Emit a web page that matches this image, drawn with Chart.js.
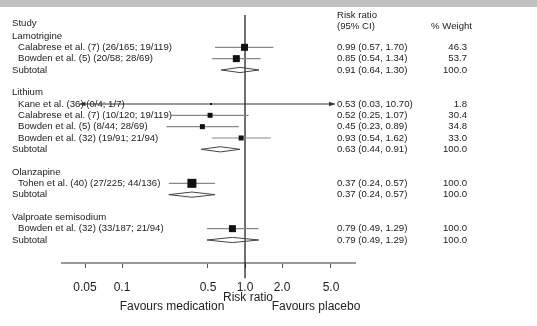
<!DOCTYPE html>
<html>
<head>
<meta charset="utf-8">
<script src="https://cdn.jsdelivr.net/npm/chart.js@4.4.1/dist/chart.umd.min.js"></script>
<style>
  body { margin: 0; background: #fff; }
  #wrap { width: 537px; height: 326px; position: relative; }
</style>
</head>
<body>
<div id="wrap"><canvas id="forest"></canvas></div>
<script>
// ---- data ----
const groupNames = ['Lamotrigine', 'Lithium', 'Olanzapine', 'Valproate semisodium'];
const groupRows = [1, 6, 13, 17];

const studyNames = [
    'Calabrese et al. (7) (26/165; 19/119)',
    'Bowden et al. (5) (20/58; 28/69)',
    'Kane et al. (36) (0/4; 1/7)',
    'Calabrese et al. (7) (10/120; 19/119)',
    'Bowden et al. (5) (8/44; 28/69)',
    'Bowden et al. (32) (19/91; 21/94)',
    'Tohen et al. (40) (27/225; 44/136)',
    'Bowden et al. (32) (33/187; 21/94)'
];
const studyRows = [2, 3, 7, 8, 9, 10, 14, 18];
const studyRR = [0.99, 0.85, 0.53, 0.52, 0.45, 0.93, 0.37, 0.79];
const studyLow = [0.57, 0.54, 0.03, 0.25, 0.23, 0.54, 0.24, 0.49];
const studyHigh = [1.70, 1.34, 10.70, 1.07, 0.89, 1.62, 0.57, 1.29];
const studyWeight = [46.3, 53.7, 1.8, 30.4, 34.8, 33.0, 100.0, 100.0];

const subRows = [4, 11, 15, 19];
const subRR = [0.91, 0.63, 0.37, 0.79];
const subLow = [0.64, 0.44, 0.24, 0.49];
const subHigh = [1.30, 0.91, 0.57, 1.29];
const subWeight = [100.0, 100.0, 100.0, 100.0];

const tickValues = [0.05, 0.1, 0.5, 1.0, 2.0, 5.0];
const tickLabels = ['0.05', '0.1', '0.5', '1.0', '2.0', '5.0'];

// ---- styling ----
const FONT = '"Liberation Sans", Arial, sans-serif';
const TEXT = '#222';
const squareSide = [7, 7, 2, 5, 5, 5, 9, 7];   // marker size per study, px
const clipLow = 0.045, clipHigh = 5.4;          // CI lines drawn only inside this range
const yTop = -0.85, yBottom = 21.03;

function clamp(v) { return Math.min(clipHigh, Math.max(clipLow, v)); }

const datasets = [];

// study squares
datasets.push({
    data: studyRR.map((v, i) => ({ x: v, y: studyRows[i] })),
    pointStyle: 'rect',
    pointRadius: squareSide.map(s => s / Math.SQRT2),
    pointHoverRadius: squareSide.map(s => s / Math.SQRT2),
    backgroundColor: '#111',
    borderColor: '#111',
    borderWidth: 0,
    order: 0
});

// confidence interval lines
studyRR.forEach((v, i) => {
    datasets.push({
        data: [{ x: clamp(studyLow[i]), y: studyRows[i] }, { x: clamp(studyHigh[i]), y: studyRows[i] }],
        showLine: true,
        borderColor: studyLow[i] < clipLow || studyHigh[i] > clipHigh ? '#333' : '#888',
        borderWidth: 1.2,
        pointRadius: 0,
        order: 1
    });
});

// subtotal diamonds
subRR.forEach((v, i) => {
    const r = subRows[i];
    datasets.push({
        data: [
            { x: subLow[i], y: r },
            { x: v, y: r - 0.23 },
            { x: subHigh[i], y: r },
            { x: v, y: r + 0.23 },
            { x: subLow[i], y: r }
        ],
        showLine: true,
        borderColor: '#444',
        borderWidth: 1,
        pointRadius: 0,
        order: 1
    });
});

// line of no effect
datasets.push({
    data: [{ x: 1, y: yTop }, { x: 1, y: yBottom + 1.35 }],
    showLine: true,
    borderColor: '#111',
    borderWidth: 1.2,
    pointRadius: 0,
    clip: false,
    order: 2
});

const textPlugin = {
    id: 'forestText',
    beforeDraw(chart) {
        const c = chart.ctx;
        c.save();
        c.fillStyle = '#c0c0c0';
        c.fillRect(0, 0, chart.width, 7);
        c.restore();
    },
    afterDraw(chart) {
        const c = chart.ctx;
        const xs = chart.scales.x, ys = chart.scales.y;
        c.save();
        c.fillStyle = TEXT;
        c.textBaseline = 'middle';
        c.font = '9.6px ' + FONT;

        // headers
        c.textAlign = 'left';
        c.fillText('Study', 12, 23);
        c.fillText('Risk ratio', 337, 15);
        c.fillText('(95% CI)', 337, 26);
        c.textAlign = 'right';
        c.fillText('% Weight', 472, 26);

        const fmt = (a, b, d) => a.toFixed(2) + ' (' + b.toFixed(2) + ', ' + d.toFixed(2) + ')';

        groupNames.forEach((g, i) => {
            c.textAlign = 'left';
            c.fillText(g, 12, ys.getPixelForValue(groupRows[i]));
        });
        studyNames.forEach((s, i) => {
            const y = ys.getPixelForValue(studyRows[i]);
            c.textAlign = 'left';
            c.fillText(s, 18, y);
            c.fillText(fmt(studyRR[i], studyLow[i], studyHigh[i]), 337, y);
            c.textAlign = 'right';
            c.fillText(studyWeight[i].toFixed(1), 467, y);
        });
        subRows.forEach((r, i) => {
            const y = ys.getPixelForValue(r);
            c.textAlign = 'left';
            c.fillText('Subtotal', 12, y);
            c.fillText(fmt(subRR[i], subLow[i], subHigh[i]), 337, y);
            c.textAlign = 'right';
            c.fillText(subWeight[i].toFixed(1), 467, y);
        });

        // arrow heads where a CI runs off the range
        c.fillStyle = '#333';
        studyRR.forEach((v, i) => {
            const y = ys.getPixelForValue(studyRows[i]);
            if (studyHigh[i] > clipHigh) {
                const x = xs.getPixelForValue(clipHigh);
                c.beginPath(); c.moveTo(x, y); c.lineTo(x - 6, y - 2.2); c.lineTo(x - 6, y + 2.2); c.fill();
            }
            if (studyLow[i] < clipLow) {
                const x = xs.getPixelForValue(clipLow);
                c.beginPath(); c.moveTo(x, y); c.lineTo(x + 6, y - 2.2); c.lineTo(x + 6, y + 2.2); c.fill();
            }
        });

        // axis caption
        c.fillStyle = TEXT;
        c.font = '12px ' + FONT;
        c.textAlign = 'center';
        c.fillText('Risk ratio', xs.getPixelForValue(1) + 3, 298);
        c.fillText('Favours medication', 172, 307);
        c.fillText('Favours placebo', 316, 307);
        c.restore();
    }
};

new Chart(document.getElementById('forest'), {
    type: 'scatter',
    data: { datasets: datasets },
    options: {
        responsive: true,
        maintainAspectRatio: false,
        animation: false,
        events: [],
        layout: { padding: { left: 62, right: 182, top: 15, bottom: 23 } },
        plugins: { legend: { display: false }, tooltip: { enabled: false } },
        scales: {
            x: {
                type: 'logarithmic',
                min: 0.0325,
                max: 7.84,
                afterBuildTicks: (axis) => { axis.ticks = tickValues.map(v => ({ value: v })); },
                afterFit: (axis) => { axis.height = 40; },
                grid: { drawOnChartArea: false, drawTicks: true, tickLength: 5, color: '#555', tickWidth: 1 },
                border: { display: true, color: '#999', width: 2 },
                ticks: {
                    autoSkip: false,
                    maxRotation: 0,
                    padding: 12,
                    color: TEXT,
                    font: { family: FONT, size: 12 },
                    callback: (value, index) => tickLabels[index]
                }
            },
            y: {
                type: 'linear',
                display: false,
                reverse: true,
                min: yTop,
                max: yBottom
            }
        }
    },
    plugins: [textPlugin]
});
</script>
</body>
</html>
